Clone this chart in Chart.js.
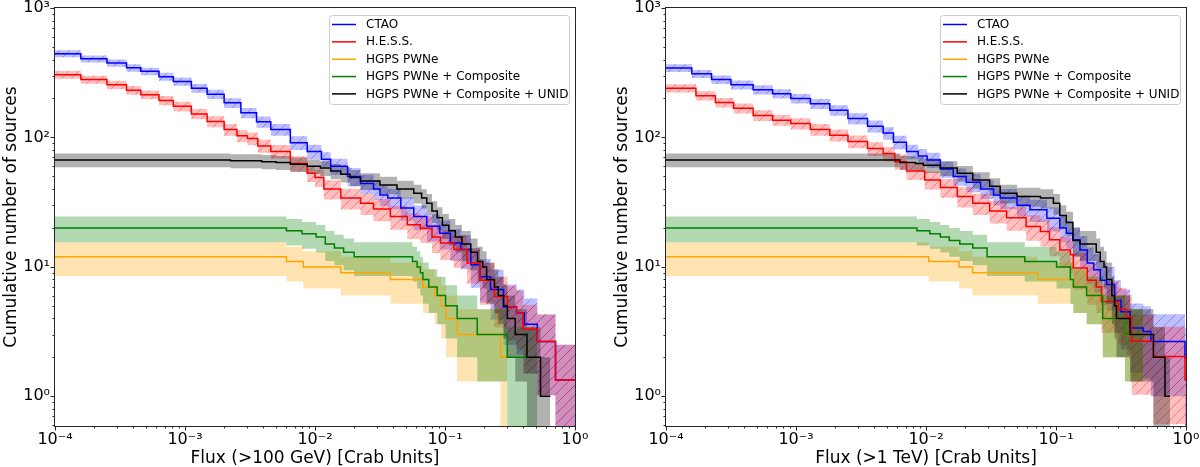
<!DOCTYPE html>
<html>
<head>
<meta charset="utf-8">
<script src="https://cdn.jsdelivr.net/npm/chart.js@4.4.0/dist/chart.umd.min.js"></script>
<style>
html,body{margin:0;padding:0;background:#fff;}
#wrap{display:flex;width:1200px;height:467px;}
canvas{display:block;}
</style>
</head>
<body>
<div id="wrap"><canvas id="c1" width="600" height="467"></canvas><canvas id="c2" width="600" height="467"></canvas></div>
<script>
// ---------------- labels ----------------
const seriesNames = ['CTAO', 'H.E.S.S.', 'HGPS PWNe', 'HGPS PWNe + Composite', 'HGPS PWNe + Composite + UNID'];
const xTitles = ['Flux (>100 GeV) [Crab Units]', 'Flux (>1 TeV) [Crab Units]'];
const yTitle = 'Cumulative number of sources';
const xMajorTicks = [1e-4, 1e-3, 1e-2, 1e-1, 1];
const yMajorTicks = [1, 10, 100, 1000];
const xDecades = [1e-4, 1e-3, 1e-2, 1e-1];
const yDecades = [0.1, 1, 10, 100];
const minorMultipliers = [2, 3, 4, 5, 6, 7, 8, 9];

// ---------------- >100 GeV panel ----------------
const gevCtaoFlux = [1e-4, 1.58e-4, 2.51e-4, 3.55e-4, 4.57e-4, 6.31e-4, 8.13e-4, 1.12e-3, 1.48e-3, 2.0e-3, 2.69e-3, 3.55e-3, 4.57e-3, 6.46e-3, 8.71e-3, 1.12e-2, 1.32e-2, 1.78e-2, 2.24e-2, 2.82e-2, 3.16e-2, 3.63e-2, 4.57e-2, 5.75e-2, 7.24e-2, 9.12e-2, 0.110, 0.132, 0.158, 0.186, 0.224, 0.282, 0.355, 0.407, 0.513, 0.708, 1.0];
const gevCtaoN    = [444, 405, 376, 345, 324, 295, 271, 240, 216, 185, 155, 132, 115, 91, 78, 68, 60, 50, 44, 40, 36, 34, 28.5, 24.5, 20.6, 18.2, 15.3, 13.6, 10.4, 8.4, 6.7, 4.9, 4.4, 3.6, 2.65, 1.34, 1.34];
const gevCtaoErr  = [27, 25, 24, 23, 22, 21, 20, 19, 18, 16, 14, 13, 12, 11, 10, 9, 8.5, 8, 7.5, 7, 6.5, 6.2, 5.8, 5.3, 4.9, 4.6, 4.2, 4.0, 3.5, 3.1, 2.8, 2.4, 2.3, 2.1, 1.63, 1.16, 1.16];

const gevHessFlux = [1e-4, 1.58e-4, 2.51e-4, 3.55e-4, 4.57e-4, 6.31e-4, 8.13e-4, 1.12e-3, 1.48e-3, 2.0e-3, 2.51e-3, 3.02e-3, 3.63e-3, 4.57e-3, 6.46e-3, 8.71e-3, 1.0e-2, 1.17e-2, 1.58e-2, 2.24e-2, 2.82e-2, 3.80e-2, 5.13e-2, 6.46e-2, 7.94e-2, 9.23e-2, 0.117, 0.148, 0.186, 0.240, 0.302, 0.355, 0.398, 0.513, 0.708, 1.0];
const gevHessN    = [305, 280, 255, 232, 214, 193, 174, 152, 133, 115, 103, 98, 86, 78, 63, 53, 49, 40, 34, 31, 28, 24.5, 21.2, 19.9, 17, 15.3, 13.6, 10.7, 7.9, 5.9, 4.9, 4.4, 3.3, 2.65, 1.34, 1.34];
const gevHessErr  = [21, 20, 19, 18, 17, 16, 15, 14, 13, 12, 11, 11, 10, 9.5, 8.5, 7.8, 7.5, 6.8, 6.2, 5.8, 5.5, 5.1, 4.8, 4.6, 4.2, 4.0, 3.8, 3.3, 2.8, 2.5, 2.2, 2.1, 1.8, 1.63, 1.16, 1.16];

const gevPwneFlux = [1e-4, 6.03e-3, 8.13e-3, 1.58e-2, 3.80e-2, 6.76e-2, 8.32e-2, 9.33e-2, 0.102, 0.124, 0.267, 0.301];
const gevPwneN    = [12, 11, 10, 9, 8, 7, 6, 5, 4, 3, 2, 2];
const gevPwneErr  = [3.5, 3.3, 3.2, 3.0, 2.8, 2.6, 2.4, 2.2, 2.0, 1.7, 1.42, 1.42];

const gevCompFlux = [1e-4, 6.03e-3, 7.94e-3, 1.02e-2, 1.20e-2, 1.41e-2, 1.66e-2, 2.0e-2, 5.62e-2, 6.10e-2, 6.46e-2, 6.76e-2, 7.50e-2, 8.71e-2, 0.101, 0.124, 0.177, 0.301, 0.512];
const gevCompN    = [20, 19, 18, 17, 15, 14, 13, 12, 11, 10, 9, 8, 7, 6, 5, 4, 3, 2, 2];
const gevCompErr  = [4.5, 4.4, 4.2, 4.1, 3.9, 3.7, 3.6, 3.5, 3.3, 3.2, 3.0, 2.8, 2.6, 2.4, 2.2, 2.0, 1.7, 1.42, 1.42];

const gevUnidFlux = [1e-4, 2.24e-3, 3.89e-3, 5.01e-3, 6.46e-3, 8.71e-3, 1.10e-2, 1.32e-2, 1.58e-2, 1.86e-2, 2.24e-2, 3.16e-2, 4.27e-2, 5.75e-2, 6.61e-2, 7.24e-2, 7.94e-2, 8.71e-2, 9.55e-2, 0.107, 0.120, 0.135, 0.158, 0.178, 0.195, 0.209, 0.240, 0.257, 0.282, 0.302, 0.347, 0.427, 0.543, 0.646];
const gevUnidN    = [67, 66, 65, 64, 62, 60, 58, 55, 52, 49, 46, 43, 40, 37, 34, 31, 27, 24, 21, 19, 17, 15, 13, 11, 10, 8, 7, 6, 5, 4, 3, 2, 1, 1];
const gevUnidErr  = [8.2, 8.1, 8.1, 8.0, 7.9, 7.7, 7.6, 7.4, 7.2, 7.0, 6.8, 6.6, 6.3, 6.1, 5.8, 5.6, 5.2, 4.9, 4.6, 4.4, 4.1, 3.9, 3.6, 3.3, 3.2, 2.8, 2.6, 2.4, 2.2, 2.0, 1.7, 1.42, 1.0, 1.0];

// ---------------- >1 TeV panel ----------------
const tevCtaoFlux = [1e-4, 1.58e-4, 2.24e-4, 3.16e-4, 4.68e-4, 6.61e-4, 9.12e-4, 1.29e-3, 1.82e-3, 2.51e-3, 3.55e-3, 4.68e-3, 5.62e-3, 7.08e-3, 8.71e-3, 1.02e-2, 1.29e-2, 1.62e-2, 2.04e-2, 2.63e-2, 3.31e-2, 3.72e-2, 5.01e-2, 6.31e-2, 8.51e-2, 0.107, 0.120, 0.135, 0.153, 0.174, 0.195, 0.219, 0.245, 0.282, 0.316, 0.372, 0.468, 0.537, 0.982, 1.12];
const tevCtaoN    = [344, 310, 280, 255, 234, 218, 200, 182, 162, 140, 122, 108, 92, 78, 72, 67, 57, 50, 45, 40, 36, 34, 30, 27.6, 23.8, 20, 18.2, 16.2, 13.5, 10.7, 9.5, 7.9, 7.3, 5.5, 4.5, 3.37, 3.17, 2.65, 1.97, 1.97];
const tevCtaoErr  = [24, 22, 21, 20, 19, 18, 17, 16, 15, 14, 13, 12, 11, 10, 9.5, 9, 8.2, 7.6, 7.2, 6.6, 6.2, 6.0, 5.6, 5.4, 5.0, 4.6, 4.4, 4.1, 3.8, 3.4, 3.1, 2.8, 2.7, 2.4, 2.2, 1.85, 1.8, 1.65, 1.4, 1.4];

const tevHessFlux = [1e-4, 1.70e-4, 2.40e-4, 3.31e-4, 4.68e-4, 6.61e-4, 9.12e-4, 1.29e-3, 1.82e-3, 2.51e-3, 3.55e-3, 4.68e-3, 5.75e-3, 7.08e-3, 9.77e-3, 1.29e-2, 1.74e-2, 2.29e-2, 3.09e-2, 4.17e-2, 5.89e-2, 7.59e-2, 8.91e-2, 0.107, 0.129, 0.136, 0.174, 0.204, 0.224, 0.302, 0.349, 0.382, 0.560, 0.982, 1.12];
const tevHessN    = [240, 210, 186, 168, 148, 136, 128, 115, 104, 93, 82, 75, 65, 55, 47, 41, 35, 31, 27, 24, 20.5, 18.8, 16.2, 13.5, 12.4, 9.8, 7.9, 7.0, 5.4, 4.7, 4.1, 2.66, 2.03, 1.34, 1.34];
const tevHessErr  = [18, 17, 16, 15, 14, 13, 13, 12, 11, 10.5, 10, 9.5, 8.8, 8, 7.3, 6.8, 6.2, 5.8, 5.4, 5.0, 4.6, 4.4, 4.1, 3.7, 3.5, 3.1, 2.8, 2.6, 2.3, 2.2, 2.0, 1.63, 1.42, 1.16, 1.16];

const tevPwneFlux = [1e-4, 1.05e-2, 1.80e-2, 2.28e-2, 7.24e-2, 0.136, 0.172, 0.229, 0.339, 0.468];
const tevPwneN    = [12, 11, 10, 9, 8, 7, 6, 4, 3, 3];
const tevPwneErr  = [3.5, 3.3, 3.2, 3.0, 2.8, 2.6, 2.4, 2.0, 1.7, 1.7];

const tevCompFlux = [1e-4, 8.51e-3, 1.07e-2, 1.29e-2, 1.51e-2, 1.82e-2, 2.29e-2, 2.95e-2, 5.75e-2, 0.101, 0.129, 0.136, 0.172, 0.229, 0.339, 0.468];
const tevCompN    = [20, 19, 18, 17, 16, 15, 14, 12, 11, 10, 8, 7, 6, 4, 3, 3];
const tevCompErr  = [4.5, 4.4, 4.2, 4.1, 4.0, 3.9, 3.7, 3.5, 3.3, 3.2, 2.8, 2.6, 2.4, 2.0, 1.7, 1.7];

const tevUnidFlux = [1e-4, 6.31e-3, 8.32e-3, 9.55e-3, 1.29e-2, 1.74e-2, 2.29e-2, 3.09e-2, 3.72e-2, 5.01e-2, 7.59e-2, 9.55e-2, 0.107, 0.120, 0.135, 0.153, 0.204, 0.219, 0.234, 0.245, 0.269, 0.282, 0.292, 0.372, 0.562, 0.689, 0.752];
const tevUnidN    = [67, 64, 63, 61, 58, 53, 47, 42, 37, 35, 34, 31, 25, 22, 16, 15, 13, 11, 10, 8, 6, 5, 4, 3, 2, 1, 1];
const tevUnidErr  = [8.2, 8.0, 7.9, 7.8, 7.6, 7.3, 6.9, 6.5, 6.1, 5.9, 5.8, 5.6, 5.0, 4.7, 4.0, 3.9, 3.6, 3.3, 3.2, 2.8, 2.4, 2.2, 2.0, 1.7, 1.42, 1.0, 1.0];

// ---------------- styling ----------------
const lineColors = ['#0000ff', '#ff0000', '#ffa500', '#008000', '#000000'];
const FONT = '"DejaVu Sans", "Liberation Sans", sans-serif';
const SUP = {'-': '\u207B', '0': '\u2070', '1': '\u00B9', '2': '\u00B2', '3': '\u00B3', '4': '\u2074', '5': '\u2075'};
function pow10Label(v) {
  const e = Math.round(Math.log10(v));
  return '10' + String(e).split('').map(c => SUP[c]).join('');
}

function hatchPattern(ctx, fill, line) {
  const c = document.createElement('canvas');
  c.width = 10; c.height = 10;
  const g = c.getContext('2d');
  g.fillStyle = fill; g.fillRect(0, 0, 10, 10);
  g.strokeStyle = line; g.lineWidth = 1;
  g.beginPath();
  g.moveTo(-1, 11); g.lineTo(11, -1);
  g.moveTo(-6, 6); g.lineTo(6, -6);
  g.moveTo(4, 16); g.lineTo(16, 4);
  g.stroke();
  return ctx.createPattern(c, 'repeat');
}

function bandFills(ctx) {
  return [
    hatchPattern(ctx, 'rgba(0,0,255,0.25)', 'rgba(0,0,255,0.30)'),
    hatchPattern(ctx, 'rgba(255,0,0,0.25)', 'rgba(255,0,0,0.35)'),
    'rgba(255,165,0,0.30)',
    'rgba(0,128,0,0.30)',
    'rgba(0,0,0,0.30)'
  ];
}

const framePlugin = {
  id: 'frame',
  afterDatasetsDraw(chart, args, opts) {
    const {ctx, chartArea: a} = chart;
    const xs = chart.scales.x, ys = chart.scales.y;
    ctx.save();
    ctx.strokeStyle = '#262626';
    ctx.lineWidth = 1;
    // tick marks
    const tickX = (v, len) => {
      if (v < xs.min || v > xs.max) return;
      const px = Math.round(xs.getPixelForValue(v)) + 0.5;
      ctx.beginPath(); ctx.moveTo(px, a.bottom); ctx.lineTo(px, a.bottom + len); ctx.stroke();
    };
    const tickY = (v, len) => {
      if (v < ys.min || v > ys.max) return;
      const py = Math.round(ys.getPixelForValue(v)) + 0.5;
      ctx.beginPath(); ctx.moveTo(a.left, py); ctx.lineTo(a.left - len, py); ctx.stroke();
    };
    xMajorTicks.forEach(v => tickX(v, 4.5));
    xDecades.forEach(d => minorMultipliers.forEach(m => tickX(d * m, 2.5)));
    yMajorTicks.forEach(v => tickY(v, 4.5));
    yDecades.forEach(d => minorMultipliers.forEach(m => tickY(d * m, 2.5)));
    // frame
    ctx.strokeRect(Math.round(a.left) - 0.5, Math.round(a.top) - 0.5, Math.round(a.right - a.left) + 1, Math.round(a.bottom - a.top) + 1);
    // axis titles
    ctx.fillStyle = '#000';
    ctx.font = '17px ' + FONT;
    ctx.textAlign = 'center';
    ctx.textBaseline = 'alphabetic';
    ctx.fillText(opts.xTitle, (a.left + a.right) / 2, 463);
    ctx.save();
    ctx.translate(a.left - 39.5, (a.top + a.bottom) / 2);
    ctx.rotate(-Math.PI / 2);
    ctx.fillText(yTitle, 0, 0);
    ctx.restore();
    // legend
    const w = 240, h = 89;
    const x0 = a.right - 246, y0 = a.top + 7;
    ctx.beginPath();
    if (ctx.roundRect) ctx.roundRect(x0 + 0.5, y0 + 0.5, w, h, 3); else ctx.rect(x0 + 0.5, y0 + 0.5, w, h);
    ctx.fillStyle = 'rgba(255,255,255,0.8)';
    ctx.fill();
    ctx.strokeStyle = '#cccccc';
    ctx.stroke();
    ctx.font = '12px ' + FONT;
    ctx.textAlign = 'left';
    ctx.textBaseline = 'middle';
    seriesNames.forEach((name, i) => {
      const yy = y0 + 9.5 + i * 17.35;
      ctx.strokeStyle = lineColors[i];
      ctx.lineWidth = 1.5;
      ctx.beginPath(); ctx.moveTo(x0 + 3, yy); ctx.lineTo(x0 + 27, yy); ctx.stroke();
      ctx.fillStyle = '#000';
      ctx.fillText(name, x0 + 37, yy + 0.5);
    });
    ctx.restore();
  }
};

function makeChart(id, series, cfg) {
  const ctx = document.getElementById(id).getContext('2d');
  const fills = bandFills(ctx);
  const datasets = [];
  series.forEach((s, k) => {
    const upIndex = datasets.length;
    datasets.push({
      data: s.flux.map((f, i) => ({x: f, y: s.n[i] + s.err[i]})),
      borderWidth: 0, borderColor: 'rgba(0,0,0,0)', pointRadius: 0, stepped: true, fill: false, order: 30 - k
    });
    datasets.push({
      data: s.flux.map((f, i) => ({x: f, y: Math.max(s.n[i] - s.err[i], 0.3)})),
      borderWidth: 0, borderColor: 'rgba(0,0,0,0)', pointRadius: 0, stepped: true,
      fill: upIndex, backgroundColor: fills[k], order: 30 - k
    });
    datasets.push({
      data: s.flux.map((f, i) => ({x: f, y: s.n[i]})),
      borderColor: lineColors[k], borderWidth: 1.5, pointRadius: 0, stepped: true, fill: false, order: 5 - k
    });
  });
  return new Chart(ctx, {
    type: 'line',
    data: {datasets},
    options: {
      responsive: false, animation: false, events: [], devicePixelRatio: 1,
      layout: {padding: {top: 8, right: cfg.padRight, left: 0, bottom: 0}},
      plugins: {legend: {display: false}, tooltip: {enabled: false}, frame: {xTitle: cfg.xTitle}},
      scales: {
        x: {
          type: 'logarithmic', min: 1e-4, max: 1, bounds: 'data',
          grid: {display: false, drawTicks: true, tickLength: 4},
          border: {display: false},
          afterBuildTicks: s => { s.ticks = xMajorTicks.map(v => ({value: v})); },
          ticks: {font: {family: FONT, size: 16}, color: '#000', padding: 0, maxRotation: 0, minRotation: 0, autoSkip: false,
                  callback: v => pow10Label(v)},
          afterFit: s => { s.height = 41; s.paddingLeft = 0; s.paddingRight = 0; }
        },
        y: {
          type: 'logarithmic', min: 0.59, max: 1000, bounds: 'data',
          grid: {display: false, drawTicks: true, tickLength: 4},
          border: {display: false},
          afterBuildTicks: s => { s.ticks = yMajorTicks.map(v => ({value: v})); },
          ticks: {font: {family: FONT, size: 16}, color: '#000', padding: 1, autoSkip: false,
                  callback: v => pow10Label(v)},
          afterFit: s => { s.width = cfg.yWidth; s.paddingTop = 0; s.paddingBottom = 0; }
        }
      }
    },
    plugins: [framePlugin]
  });
}

makeChart('c1', [
  {flux: gevCtaoFlux, n: gevCtaoN, err: gevCtaoErr},
  {flux: gevHessFlux, n: gevHessN, err: gevHessErr},
  {flux: gevPwneFlux, n: gevPwneN, err: gevPwneErr},
  {flux: gevCompFlux, n: gevCompN, err: gevCompErr},
  {flux: gevUnidFlux, n: gevUnidN, err: gevUnidErr}
], {xTitle: xTitles[0], yWidth: 55, padRight: 25});

makeChart('c2', [
  {flux: tevCtaoFlux, n: tevCtaoN, err: tevCtaoErr},
  {flux: tevHessFlux, n: tevHessN, err: tevHessErr},
  {flux: tevPwneFlux, n: tevPwneN, err: tevPwneErr},
  {flux: tevCompFlux, n: tevCompN, err: tevCompErr},
  {flux: tevUnidFlux, n: tevUnidN, err: tevUnidErr}
], {xTitle: xTitles[1], yWidth: 66, padRight: 14});
</script>
</body>
</html>
